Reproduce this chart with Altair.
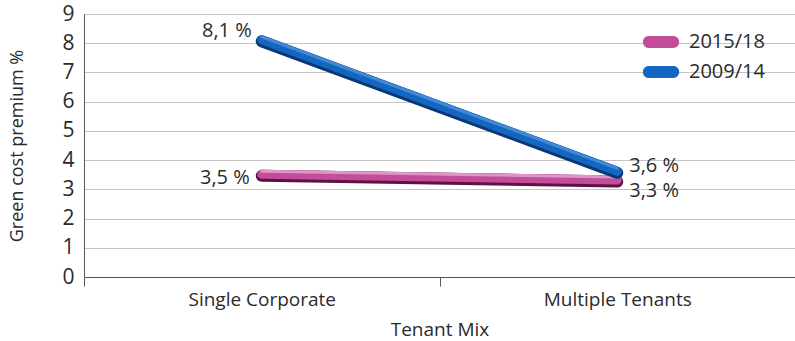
import altair as alt
import pandas as pd

categories = ["Single Corporate", "Multiple Tenants"]
series = ["2015/18", "2009/14"]
values_2015 = [3.5, 3.3]
values_2009 = [8.1, 3.6]
labels_2015 = ["3,5 %", "3,3 %"]
labels_2009 = ["8,1 %", "3,6 %"]
y_ticks = [0, 1, 2, 3, 4, 5, 6, 7, 8, 9]

rows = []
for s, vals, labs in [(series[0], values_2015, labels_2015), (series[1], values_2009, labels_2009)]:
    for c, v, l in zip(categories, vals, labs):
        rows.append({"cat": c, "series": s, "value": v, "label": l})
df = pd.DataFrame(rows)

FONT = "Open Sans"
TXT = "#2b2b2b"
main = {"2015/18": "#c24d9a", "2009/14": "#1466c0"}
dark = {"2015/18": "#5e1244", "2009/14": "#0a3874"}
light = {"2015/18": "#e3a3cf", "2009/14": "#4a90dc"}
PILL = "M -0.68 -0.33 L 0.68 -0.33 A 0.33 0.33 0 0 1 0.68 0.33 L -0.68 0.33 A 0.33 0.33 0 0 1 -0.68 -0.33 Z"

x = alt.X("cat:N", sort=categories, title="Tenant Mix",
          scale=alt.Scale(paddingInner=0, paddingOuter=0),
          axis=alt.Axis(labelAngle=0, tickBand="extent", tickSize=9, tickColor="#555555",
                        domainColor="#555555", labelFontSize=19, titleFontSize=19,
                        labelPadding=4, titlePadding=11, labelColor=TXT, titleColor=TXT,
                        labelFont=FONT, titleFont=FONT, titleFontWeight="normal"))
y = alt.Y("value:Q", title="Green cost premium %",
          scale=alt.Scale(domain=[0, 9], nice=False),
          axis=alt.Axis(values=y_ticks, ticks=False, domainColor="#555555", gridColor="#c4c4c4",
                        labelFontSize=21, titleFontSize=18, labelPadding=10, titlePadding=35,
                        labelColor=TXT, titleColor=TXT, labelFont=FONT, titleFont=FONT,
                        titleFontWeight="normal"))

color = alt.Color("series:N", scale=alt.Scale(domain=series, range=[main[series[0]], main[series[1]]]),
                  title=None,
                  legend=alt.Legend(orient="none", legendX=559, legendY=16,
                                    symbolType=PILL, symbolSize=1296, symbolStrokeWidth=0,
                                    symbolOpacity=1,
                                    labelFontSize=20, labelFont=FONT, labelColor=TXT,
                                    clipHeight=24, rowPadding=6, labelOffset=10))

base = alt.Chart(df)

layers = [base.transform_filter("false").mark_point(filled=True, shape=PILL).encode(x=x, y=y, color=color)]
for s in series:
    d = base.transform_filter(alt.datum.series == s)
    layers.append(d.mark_line(strokeWidth=12, strokeCap="round", color=dark[s], yOffset=1).encode(x=x, y=y))
    layers.append(d.mark_line(strokeWidth=9, strokeCap="round", yOffset=-0.5).encode(x=x, y=y, color=color))
    layers.append(d.mark_line(strokeWidth=3, strokeCap="round", color=light[s], yOffset=-3.5, opacity=0.85).encode(x=x, y=y))

def lab(series_name, cat, align, dx, dy):
    return base.transform_filter((alt.datum.series == series_name) & (alt.datum.cat == cat)).mark_text(
        align=align, baseline="middle", dx=dx, dy=dy, fontSize=20, font=FONT, color=TXT
    ).encode(x=x, y=y, text="label:N")

texts = [
    lab("2009/14", categories[0], "right", -10, -9),
    lab("2015/18", categories[0], "right", -12, 3),
    lab("2009/14", categories[1], "left", 12, -6),
    lab("2015/18", categories[1], "left", 12, 10),
]

chart = alt.layer(*layers, *texts).properties(
    width=711, height=263,
    padding={"left": 84, "top": 14, "right": 0, "bottom": 64},
    autosize=alt.AutoSizeParams(type="none"),
).configure_view(stroke=None).configure(background="white")

chart.save("out.html", embed_options={"renderer": "svg", "actions": False})
